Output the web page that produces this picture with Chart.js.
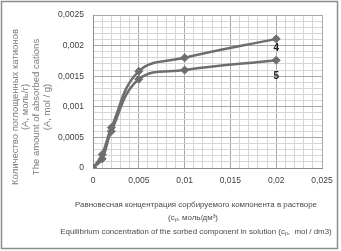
<!DOCTYPE html>
<html>
<head>
<meta charset="utf-8">
<script src="https://cdn.jsdelivr.net/npm/chart.js@4.4.0/dist/chart.umd.min.js"></script>
<style>
  html, body { margin: 0; padding: 0; background: #fff; }
  #wrap { width: 341px; height: 251px; }
</style>
</head>
<body>
<div id="wrap"><canvas id="sorption" width="341" height="251"></canvas></div>
<script>
// equilibrium concentration, mol/dm3
const concentration = [0, 0.001, 0.002, 0.005, 0.01, 0.02]
// absorbed cations, mol/g
const series4 = [0, 0.00022, 0.00066, 0.00158, 0.0018, 0.00211]
const series5 = [0, 0.00015, 0.0006, 0.00145, 0.0016, 0.00176]
const seriesNames = ['4', '5']
// where the curve numbers sit (x, y in data units)
const nameX = [0.02, 0.02]
const nameY = [0.00195, 0.0015]

const xMajor = 0.005
const yMajor = 0.0005

const yTitle = ['Количество поглощенных катионов', '(A, моль/г)', 'The amount of absorbed cations', '(A, mol / g)']
const xTitle = ['Равновесная концентрация сорбируемого компонента в растворе', '(cₚ, моль/дм³)', 'Equilibrium concentration of the sorbed component in solution (cₚ,  mol / dm3)']

const narrow = "'Liberation Sans Narrow', 'Liberation Sans', sans-serif"

function isMajor(v, step){
    let r = v / step
    return Math.abs(r - Math.round(r)) < 1e-6
}
function fmt(v){
    return String(Number(v.toFixed(4))).replace('.', ',')
}

function points(ys){
    return concentration.map(function(x, i){ return {x: x, y: ys[i]} })
}

const lineColor = '#6e6e6e'

const decor = {
    id: 'decor',
    afterDraw: function(chart){
        const c = chart.ctx
        c.save()
        // outer frame
        c.strokeStyle = '#8c8c8c'
        c.lineWidth = 1.5
        c.strokeRect(1.5, 1.5, 336, 247)

        // y title
        c.fillStyle = '#7a7a7a'
        c.font = "9.5px 'Liberation Sans', sans-serif"
        c.textAlign = 'center'
        c.textBaseline = 'middle'
        c.translate(15, 107)
        c.rotate(-Math.PI / 2)
        yTitle.forEach(function(t, i){ c.fillText(t, 0, i * 10.7) })
        c.setTransform(1, 0, 0, 1, 0, 0)

        // x title
        c.fillStyle = '#4a4a4a'
        c.font = '7.9px ' + narrow
        c.fillText(xTitle[0], 196, 205)
        c.fillText(xTitle[1], 193, 218)
        c.fillText(xTitle[2], 196, 232)

        // curve numbers
        c.fillStyle = '#222'
        c.font = 'bold 10px ' + narrow
        const xs = chart.scales.x, ys = chart.scales.y
        seriesNames.forEach(function(n, i){
            c.fillText(n, xs.getPixelForValue(nameX[i]), ys.getPixelForValue(nameY[i]))
        })
        c.restore()
    }
}

const ctx = document.getElementById('sorption')
const sorption = new Chart(ctx, {
    type: 'line',
    data: {
        datasets: [{
            label: seriesNames[0],
            data: points(series4),
            borderColor: lineColor,
            backgroundColor: lineColor,
            borderWidth: 2.5,
            pointStyle: 'rectRot',
            pointRadius: 4,
            pointBorderWidth: 1,
            tension: 0.4
        }, {
            label: seriesNames[1],
            data: points(series5),
            borderColor: lineColor,
            backgroundColor: lineColor,
            borderWidth: 2.5,
            pointStyle: 'rectRot',
            pointRadius: 4,
            pointBorderWidth: 1,
            tension: 0.4
        }]
    },
    options: {
        responsive: false,
        animation: false,
        layout: { padding: { left: 0, right: 19, top: 15, bottom: 0 } },
        plugins: {
            legend: { display: false },
            tooltip: { enabled: false }
        },
        scales: {
            x: {
                type: 'linear',
                min: 0,
                max: 0.025,
                afterFit: function(s){ s.height = 83 },
                ticks: {
                    stepSize: 0.001,
                    autoSkip: false,
                    maxRotation: 0,
                    padding: 8,
                    color: '#404040',
                    font: { family: narrow, size: 8.5 },
                    callback: function(v){ return isMajor(v, xMajor) ? fmt(v) : '' }
                },
                grid: {
                    drawTicks: false,
                    color: function(c){ return isMajor(c.tick.value, xMajor) ? '#a8a8a8' : '#d6d6d6' }
                },
                border: { color: '#8c8c8c' }
            },
            y: {
                min: 0,
                max: 0.0025,
                afterFit: function(s){ s.width = 93 },
                ticks: {
                    stepSize: 0.0001,
                    autoSkip: false,
                    maxTicksLimit: 100,
                    padding: 9,
                    color: '#404040',
                    font: { family: narrow, size: 8.5 },
                    callback: function(v){ return isMajor(v, yMajor) ? fmt(v) : '' }
                },
                grid: {
                    drawTicks: false,
                    color: function(c){ return isMajor(c.tick.value, yMajor) ? '#a8a8a8' : '#d6d6d6' }
                },
                border: { color: '#8c8c8c' }
            }
        }
    },
    plugins: [decor]
})
</script>
</body>
</html>
